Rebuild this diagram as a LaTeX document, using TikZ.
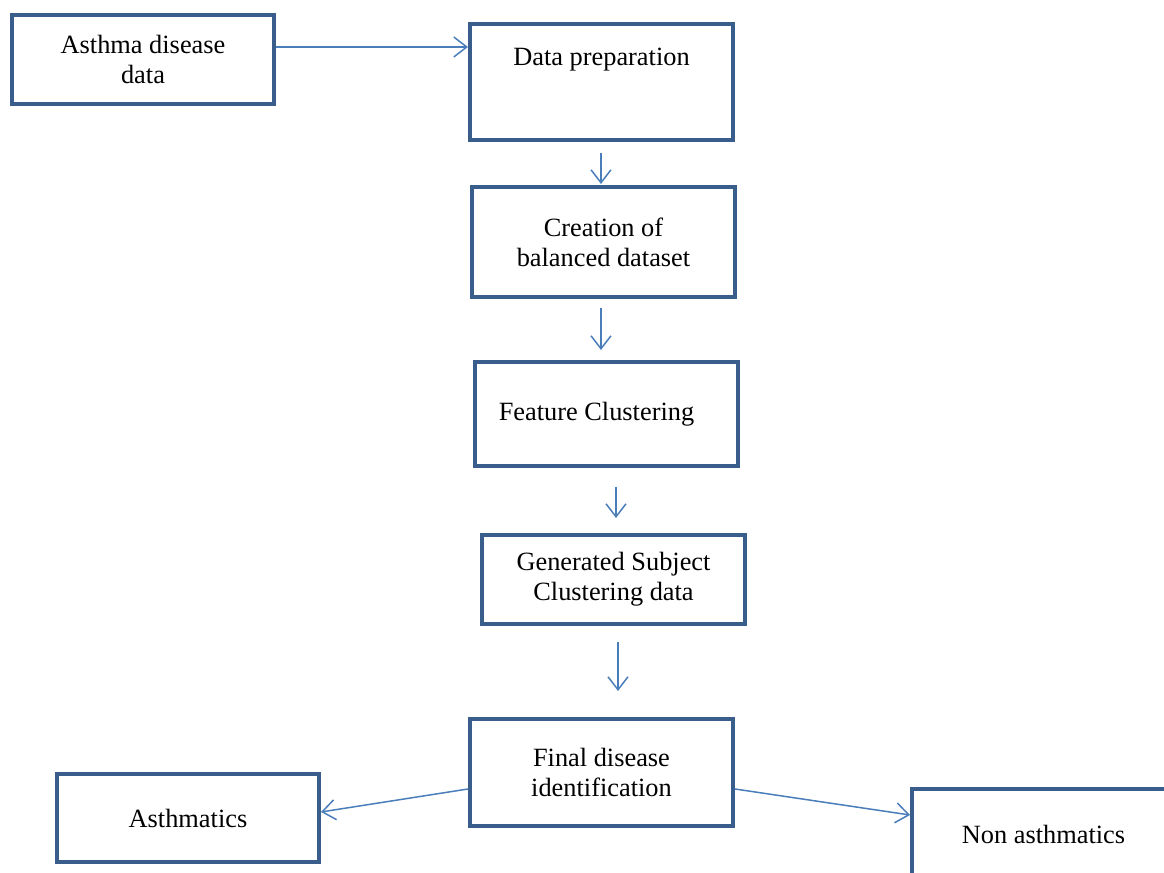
\documentclass[tikz,border=0pt]{standalone}
\usepackage{fontspec}
\setmainfont{Liberation Serif}
\usetikzlibrary{positioning, calc, arrows.meta}
\definecolor{xborder}{HTML}{3A5E8C}
\definecolor{xarrow}{HTML}{4A7EBB}
\tikzset{
	stepbox/.style={draw=xborder, line width=0.08cm, rectangle, minimum width=5.26cm, align=center, font=\fontsize{15}{17}\selectfont, inner sep=2pt},
	flow/.style={draw=xarrow, line width=0.03cm, -{Straight Barb[length=2.6mm, width=4mm]}},
}
\begin{document}
\begin{tikzpicture}
		\useasboundingbox (0,0) rectangle (23.28,17.46);
		\clip (0,0) rectangle (23.28,17.46);

		\node[stepbox, minimum width=5.24cm, minimum height=1.78cm] (asthma) at (2.86,16.27) {Asthma disease\\data};
		\node[stepbox, minimum height=2.32cm, label={[anchor=center, yshift=-0.76cm, font=\fontsize{15}{17}\selectfont]north:Data preparation}] (prep) at (12.03,15.82) {};
		\node[stepbox, minimum height=2.2cm] (balanced) at (12.07,12.62) {\raisebox{-0.05cm}{Creation of}\\\raisebox{-0.05cm}{balanced dataset}};
		\node[stepbox, minimum height=2.08cm] (featclust) at (12.13,9.18) {\hspace*{-0.4cm}\raisebox{-0.08cm}{Feature Clustering}};
		\node[stepbox, minimum height=1.78cm] (subjclust) at (12.27,5.87) {\raisebox{-0.08cm}{Generated Subject}\\\raisebox{-0.08cm}{Clustering data}};
		\node[stepbox, minimum height=2.14cm] (final) at (12.03,2.01) {\raisebox{-0.06cm}{Final disease}\\\raisebox{-0.06cm}{identification}};
		\node[stepbox, minimum width=5.24cm, minimum height=1.76cm] (asth) at (3.76,1.10) {Asthmatics};
		\node[stepbox, minimum height=1.8cm] (nonasth) at (20.87,0.78) {Non asthmatics};

		\draw[flow] ($(asthma.east)+(0,0.25)$) -- ($(prep.west)+(0,0.7)$);
		\draw[flow] ($(prep.south)+(-0.01,-0.22)$) -- ($(balanced.north)+(-0.05,0.02)$);
		\draw[flow] ($(balanced.south)+(-0.05,-0.18)$) -- ($(featclust.north)+(-0.11,0.2)$);
		\draw[flow] ($(featclust.south)+(0.19,-0.38)$) -- ($(subjclust.north)+(0.05,0.3)$);
		\draw[flow] ($(subjclust.south)+(0.09,-0.32)$) -- ($(final.north)+(0.33,0.52)$);
		\draw[flow] ($(final.west)+(0,-0.33)$) -- ($(asth.east)+(0,0.12)$);
		\draw[flow] ($(final.east)+(0,-0.33)$) -- ($(nonasth.west)+(0,0.38)$);
	\end{tikzpicture}
\end{document}
